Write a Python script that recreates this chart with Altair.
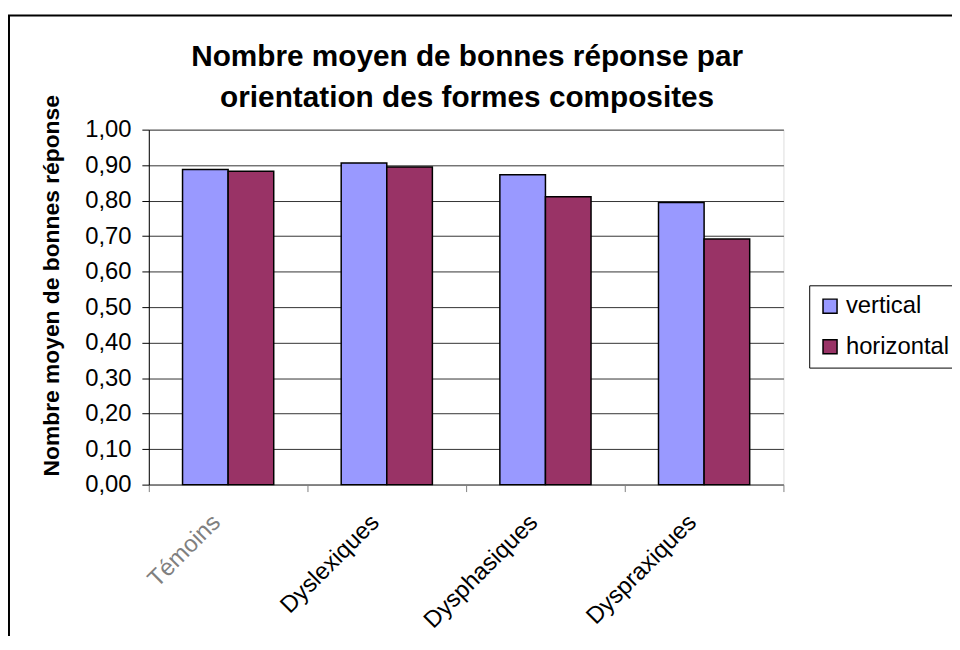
import altair as alt
import pandas as pd

categories = ["Témoins", "Dyslexiques", "Dysphasiques", "Dyspraxiques"]
orientations = ["vertical", "horizontal"]
vertical_vals = [0.888, 0.906, 0.873, 0.795]
horizontal_vals = [0.883, 0.895, 0.811, 0.692]
y_ticks = [0.0, 0.1, 0.2, 0.3, 0.4, 0.5, 0.6, 0.7, 0.8, 0.9, 1.0]
colors = ["#9999FF", "#993366"]
title_lines = ["Nombre moyen de bonnes réponse par", "orientation des formes composites"]
y_title = "Nombre moyen de bonnes réponse"

rows = []
for c, v, h in zip(categories, vertical_vals, horizontal_vals):
    rows.append({"groupe": c, "orientation": "vertical", "valeur": v})
    rows.append({"groupe": c, "orientation": "horizontal", "valeur": h})
df = pd.DataFrame(rows)

FONT = "Liberation Sans"

bars = alt.Chart(df).mark_bar(stroke="black", strokeWidth=1.5).encode(
    x=alt.X(
        "groupe:N",
        sort=categories,
        scale=alt.Scale(paddingInner=0, paddingOuter=0),
        axis=alt.Axis(
            title=None,
            labelAngle=-45,
            labelAlign="right",
            labelBaseline="middle",
            labelPadding=27,
            labelOffset=-12,
            labelFontSize=24,
            labelFont=FONT,
            labelColor=alt.ExprRef("datum.value == 'Témoins' ? '#808080' : 'black'"),
            tickBand="extent",
            tickSize=7,
            tickColor="#808080",
            domainColor="#808080",
            domainWidth=2,
            grid=False,
        ),
    ),
    xOffset=alt.XOffset(
        "orientation:N",
        sort=orientations,
        scale=alt.Scale(paddingInner=0, paddingOuter=0.74),
    ),
    y=alt.Y(
        "valeur:Q",
        scale=alt.Scale(domain=[0, 1], nice=False),
        axis=alt.Axis(
            title=y_title,
            titleFont=FONT,
            titleFontSize=23,
            titleFontWeight="bold",
            titleAngle=-90,
            titleAlign="center",
            titleBaseline="bottom",
            titleX=-86,
            titleY=157,
            values=y_ticks,
            labelExpr="replace(format(datum.value, '.2f'), '.', ',')",
            labelFont=FONT,
            labelFontSize=24,
            labelColor="black",
            labelPadding=11,
            tickSize=7,
            tickColor="black",
            domainColor="black",
            domainWidth=1,
            grid=True,
            gridColor="#333333",
            gridWidth=1,
        ),
    ),
    color=alt.Color(
        "orientation:N",
        sort=orientations,
        scale=alt.Scale(domain=orientations, range=colors),
        legend=alt.Legend(
            title=None,
            orient="none",
            legendX=666,
            legendY=157,
            symbolType="square",
            symbolSize=200,
            symbolStrokeColor="black",
            symbolStrokeWidth=1.5,
            labelFont=FONT,
            labelFontSize=24,
            labelColor="black",
            rowPadding=17,
            padding=9,
            strokeColor="black",
            fillColor="white",
        ),
    ),
)

title = alt.Chart(pd.DataFrame({"t": [0]})).mark_text(
    text=title_lines,
    font=FONT,
    fontSize=30,
    fontWeight="bold",
    color="black",
    align="center",
    baseline="alphabetic",
    lineHeight=41,
).encode(x=alt.value(321), y=alt.value(-64))

border = alt.Chart(pd.DataFrame({"b": [0]})).mark_rect(
    filled=False, stroke="black", strokeWidth=2
).encode(
    x=alt.value(-141),
    x2=alt.value(900),
    y=alt.value(-115),
    y2=alt.value(700),
)

chart = alt.layer(bars, title, border).properties(
    width=640,
    height=358,
    autosize=alt.AutoSizeParams(type="none"),
    padding={"left": 142, "top": 120, "right": 170, "bottom": 150},
).configure_view(
    stroke="#808080", strokeWidth=2
).configure(background="white")

chart.save("out.html", embed_options={"renderer": "svg", "actions": False})
